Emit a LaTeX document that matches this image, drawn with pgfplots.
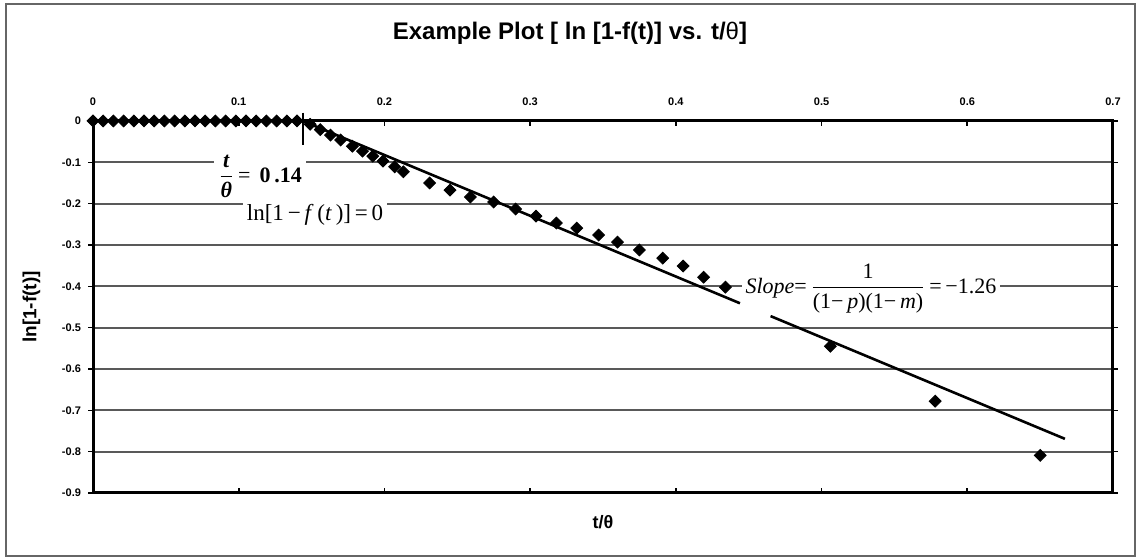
\documentclass[border=0pt]{standalone}
\usepackage{fontspec}
\setmainfont{Liberation Sans}
\newfontfamily\serif{Liberation Serif}
\usepackage{pgfplots}
\pgfplotsset{compat=1.18}

% measured points: t/theta against ln[1-f(t)]
\pgfplotstableread{
x      y
0.000  0
0.007  0
0.014  0
0.021  0
0.028  0
0.035  0
0.042  0
0.049  0
0.056  0
0.063  0
0.070  0
0.077  0
0.084  0
0.091  0
0.098  0
0.105  0
0.112  0
0.119  0
0.126  0
0.133  0
0.140  0
0.149  -0.008
0.156  -0.021
0.163  -0.034
0.170  -0.046
0.178  -0.061
0.185  -0.073
0.192  -0.085
0.199  -0.097
0.207  -0.111
0.213  -0.123
0.231  -0.150
0.245  -0.167
0.259  -0.184
0.275  -0.196
0.290  -0.213
0.304  -0.230
0.318  -0.247
0.332  -0.259
0.347  -0.276
0.360  -0.293
0.375  -0.312
0.391  -0.332
0.405  -0.351
0.419  -0.378
0.434  -0.402
0.506  -0.545
0.578  -0.678
0.650  -0.809
}\measured

\begin{document}
\begin{tikzpicture}[x=1pt,y=1pt]
\path[use as bounding box] (0,0) rectangle (570.5,280);
\draw[black!60, line width=0.7pt] (3,2) rectangle (567.5,278);
\begin{axis}[
  at={(46.5pt,33.5pt)}, anchor=south west,
  scale only axis, width=510pt, height=186pt,
  xmin=0, xmax=0.7, ymin=-0.9, ymax=0,
  clip=false,
  axis line style={line width=1.5pt},
  xtick={0,0.1,0.2,0.3,0.4,0.5,0.6,0.7},
  xticklabels={0,0.1,0.2,0.3,0.4,0.5,0.6,0.7},
  ytick={0,-0.1,-0.2,-0.3,-0.4,-0.5,-0.6,-0.7,-0.8,-0.9},
  yticklabels={0,-0.1,-0.2,-0.3,-0.4,-0.5,-0.6,-0.7,-0.8,-0.9},
  xticklabel pos=upper,
  xtick align=inside, ytick align=outside,
  major tick length=2.5pt,
  tick style={black, line width=0.8pt},
  ymajorgrids,
  grid style={black!65, line width=0.9pt},
  tick label style={font=\bfseries\fontsize{5.5}{6}\selectfont},
  xticklabel style={yshift=4pt},
  title={Example Plot [ ln [1-f(t)] vs. t/{\mdseries θ}]},
  title style={font=\bfseries\fontsize{12}{14}\selectfont,
    at={(axis description cs:0.4676,1.204)}, anchor=center},
  xlabel={t/θ},
  xlabel style={font=\bfseries\fontsize{9}{10}\selectfont,
    at={(axis description cs:0.5,-0.078)}, anchor=center},
  ylabel={ln[1-f(t)]},
  ylabel style={font=\bfseries\fontsize{9.5}{10}\selectfont,
    at={(axis description cs:-0.0603,0.5)}, anchor=center},
]
% marker at the break point t/theta = 0.14
\addplot[black, line width=1.2pt] coordinates {(0.144,0.02) (0.144,-0.058)};
% fitted straight line, broken where the slope label sits
\addplot[black, line width=1.3pt] coordinates {(0.144,0) (0.444,-0.441)};
\addplot[black, line width=1.3pt] coordinates {(0.465,-0.472) (0.667,-0.769)};
% data
\addplot[only marks, mark=square*, mark size=2.1pt,
  mark options={rotate=45, fill=black, draw=black}] table[x=x, y=y] {\measured};

\node[fill=white, inner xsep=2pt, inner ysep=1pt, anchor=center,
  font=\serif\fontsize{11}{12}\selectfont]
  at (axis cs:0.1146,-0.1332)
  {$\displaystyle\frac{\mbox{\bfseries\itshape t}}{\mbox{\bfseries\itshape θ}}$\,= \,\textbf{0\,.14}};
\node[fill=white, inner xsep=2pt, inner ysep=1pt, anchor=center,
  font=\serif\fontsize{11.5}{12}\selectfont]
  at (axis cs:0.1524,-0.2276)
  {ln[1\,−\,\textit{f}\,(\textit{t}\,)]\,=\,0};
\node[fill=white, inner xsep=2pt, inner ysep=1pt, anchor=base west,
  font=\serif\fontsize{11}{12}\selectfont]
  at (axis cs:0.4448,-0.4165)
  {\textit{Slope}=\,$\displaystyle\frac{\mbox{1}}{\mbox{(1−\,\textit{p})(1−\,\textit{m})}}$\,=\,−1.26};
\end{axis}
\end{tikzpicture}
\end{document}
